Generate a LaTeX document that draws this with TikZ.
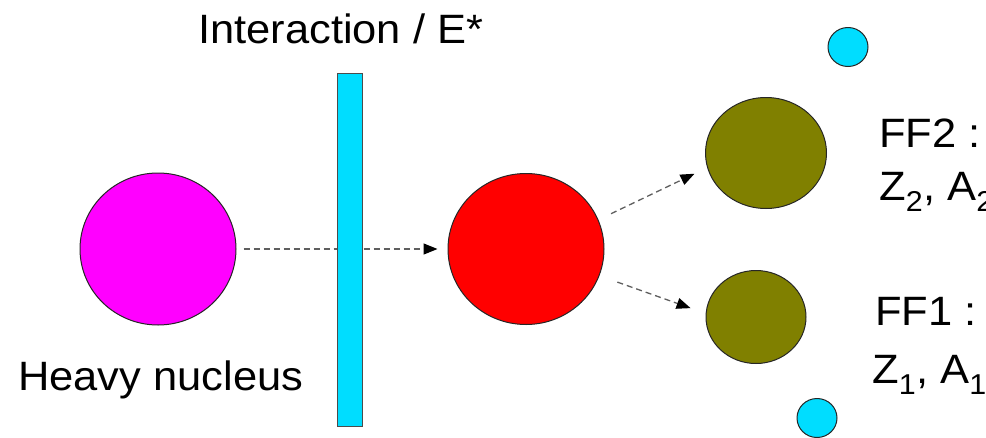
\documentclass[tikz,border=0pt]{standalone}
\usepackage{fontspec}
\setmainfont{Liberation Sans}
\usetikzlibrary{shapes.geometric,arrows.meta}
\definecolor{barcyan}{RGB}{0,221,255}
\definecolor{nucmag}{RGB}{255,0,255}
\definecolor{ffolive}{RGB}{128,128,0}
\definecolor{dashgray}{RGB}{95,95,95}
\begin{document}
\begin{tikzpicture}[x=1pt,y=-1pt,
  ball/.style={ellipse,draw=black!85,line width=1pt,inner sep=0pt},
  lab/.style={anchor=base west,inner sep=0pt,font=\fontsize{41}{48}\selectfont},
  flow/.style={draw=dashgray,line width=1.3pt,dash pattern=on 6pt off 4pt,
    -{Triangle[length=14pt,width=11pt,color=black]}},
]
\useasboundingbox (0,0) rectangle (986,437);
\node[ball,fill=nucmag,minimum width=156pt,minimum height=152pt] (heavy) at (158,249) {};
\node[ball,fill=red,minimum width=156pt,minimum height=151pt] (comp) at (526,249) {};
\node[ball,fill=ffolive,minimum width=121pt,minimum height=111pt] (ff2) at (766,153) {};
\node[ball,fill=ffolive,minimum width=100pt,minimum height=93pt] (ff1) at (756,317) {};
\node[ball,fill=barcyan,minimum width=40pt,minimum height=39pt] (n2) at (848,47) {};
\node[ball,fill=barcyan,minimum width=40pt,minimum height=39pt] (n1) at (817,418) {};
\draw[flow,shorten <=7pt,shorten >=10pt] (heavy) -- (comp);
\node[draw=black!70,line width=0.8pt,fill=barcyan,inner sep=0pt,minimum width=25pt,minimum height=353pt] (bar) at (349.5,249.5) {};
\draw[flow,shorten <=14pt,shorten >=14pt] (comp.22) -- (ff2.194);
\draw[flow,shorten <=19pt,shorten >=16pt] (comp.340) -- (ff1.176);
\node[lab] (tint) at (198,43) {\scalebox{1.06}[1]{Interaction / E*}};
\node[lab] (theavy) at (18,390) {\scalebox{1.06}[1]{Heavy nucleus}};
\node[lab] (tff2) at (879,147) {\scalebox{1.06}[1]{FF2 :}};
\node[lab] (tza2) at (879,200) {\scalebox{1.06}[1]{Z\textsubscript{2}, A\textsubscript{2}}};
\node[lab] (tff1) at (875,325) {\scalebox{1.06}[1]{FF1 :}};
\node[lab] (tza1) at (872,383) {\scalebox{1.06}[1]{Z\textsubscript{1}, A\textsubscript{1}}};
\end{tikzpicture}
\end{document}
